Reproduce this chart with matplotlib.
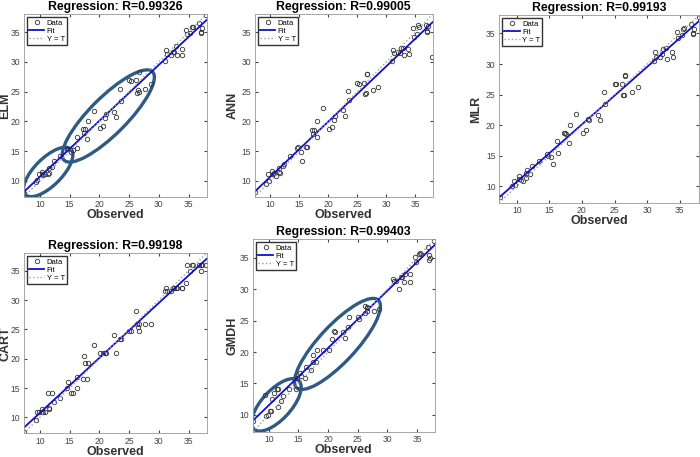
import matplotlib
matplotlib.use("Agg")
import matplotlib.pyplot as plt
import numpy as np
from matplotlib.patches import Ellipse

plt.rcParams['font.family'] = ['Liberation Sans', 'DejaVu Sans']

# observed (target) values shared by all models
observed = [7.4, 9.3, 9.6, 9.8, 10.3, 10.4, 10.6, 10.9, 11.4, 11.5, 11.6, 12.1, 12.4,
            13.4, 14.6, 14.8, 15.2, 15.5, 16.2, 16.3, 17.2, 17.4, 17.5, 18.0, 18.1,
            19.1, 20.1, 20.6, 21.0, 21.1, 22.5, 22.8, 23.4, 23.6, 25.0, 25.3, 26.2,
            26.3, 26.5, 26.6, 26.6, 27.7, 28.6, 31.0, 31.2, 31.4, 32.0, 32.3, 32.5,
            32.9, 33.0, 33.8, 33.9, 34.6, 34.8, 35.3, 35.5, 35.7, 36.8, 37.0, 37.1,
            37.2, 37.9]

elm = [8.0, 9.8, 10.2, 11.1, 11.2, 11.5, 11.0, 11.2, 11.2, 11.3, 12.1, 12.4, 13.3,
       14.2, 15.4, 15.3, 14.9, 15.2, 17.4, 15.5, 18.7, 18.0, 18.7, 17.1, 20.1,
       21.8, 18.8, 19.3, 20.5, 21.2, 21.5, 20.8, 25.4, 23.5, 26.9, 26.8, 26.9,
       24.7, 25.2, 24.9, 28.3, 25.5, 26.3, 30.1, 32.0, 31.3, 31.2, 31.6, 31.7,
       32.6, 31.1, 32.2, 31.2, 35.3, 34.7, 34.9, 35.8, 35.8, 36.6, 35.0, 34.8,
       35.7, 37.8]

ann = [8.2, 9.5, 11.2, 10.0, 11.6, 11.2, 11.3, 10.9, 11.5, 12.1, 11.4, 12.5, 12.8,
       14.2, 15.5, 15.7, 14.9, 13.3, 15.7, 15.7, 18.5, 17.9, 18.5, 17.4, 20.0,
       22.2, 18.7, 19.1, 20.2, 20.9, 21.9, 20.9, 25.1, 23.6, 26.4, 26.2, 26.4,
       24.6, 24.8, 28.0, 27.9, 25.3, 25.8, 30.1, 32.0, 31.4, 31.7, 31.4, 32.4,
       32.3, 31.1, 32.1, 31.3, 35.6, 34.1, 34.7, 36.1, 35.8, 36.1, 35.0, 35.2,
       36.0, 30.8]

mlr = [8.3, 10.0, 10.8, 10.2, 11.2, 11.7, 11.0, 10.9, 12.2, 11.3, 12.6, 12.1, 13.3,
       14.2, 15.3, 15.0, 14.8, 13.6, 17.4, 15.4, 18.7, 18.7, 18.6, 17.1, 20.1,
       21.9, 18.8, 19.2, 21.0, 20.9, 21.6, 20.9, 25.4, 23.5, 26.8, 26.7, 26.8,
       25.0, 24.9, 28.1, 28.2, 25.5, 26.2, 30.5, 31.9, 31.1, 31.1, 31.7, 32.5,
       32.6, 30.8, 32.0, 31.1, 35.3, 34.3, 34.7, 35.8, 35.9, 36.6, 35.0, 34.9,
       35.8, 37.7]

cart = [7.5, 9.6, 10.9, 10.9, 11.5, 10.9, 10.9, 11.0, 14.2, 11.6, 11.5, 14.2, 12.6,
        13.3, 15.0, 16.1, 14.2, 14.2, 16.9, 15.0, 16.6, 20.4, 19.2, 16.6, 19.2,
        22.3, 21.0, 21.0, 21.0, 21.0, 24.0, 21.0, 23.3, 23.3, 24.8, 24.8, 28.1,
        25.9, 25.4, 24.8, 26.0, 26.0, 26.0, 31.6, 32.0, 31.6, 31.6, 32.0, 32.0,
        32.0, 32.0, 32.0, 32.0, 33.0, 36.0, 35.0, 36.0, 36.0, 36.0, 36.0, 35.0,
        36.0, 36.0]

gmdh = [9.1, 13.2, 9.8, 10.0, 10.7, 10.6, 12.6, 13.5, 14.1, 11.3, 14.2, 12.2, 13.0,
        14.2, 14.2, 15.9, 16.6, 16.2, 15.9, 17.7, 17.2, 19.5, 18.5, 18.5, 20.3,
        20.3, 20.4, 22.1, 23.4, 23.2, 23.2, 22.3, 24.0, 25.6, 25.6, 25.3, 27.4,
        26.2, 27.0, 27.2, 26.6, 26.6, 26.9, 31.7, 31.3, 31.3, 30.1, 32.0, 31.9,
        31.1, 32.5, 32.5, 31.2, 35.1, 34.3, 35.6, 35.7, 35.6, 36.7, 34.7, 35.4,
        35.0, 37.7]

models = ['ELM', 'ANN', 'MLR', 'CART', 'GMDH']
r_values = ['0.99326', '0.99005', '0.99193', '0.99198', '0.99403']
predicted = [elm, ann, mlr, cart, gmdh]

# axes rectangles in figure fractions, and x position of the y label
boxes = [[0.034, 0.569, 0.261, 0.400],
         [0.364, 0.569, 0.254, 0.400],
         [0.713, 0.556, 0.286, 0.411],
         [0.034, 0.052, 0.261, 0.394],
         [0.361, 0.055, 0.260, 0.422]]
ylab_x = [-0.07, -0.09, -0.085, -0.07, -0.078]

# highlighted clusters (center, length, width) drawn on ELM and GMDH
ellipses = {'ELM': [((11.4, 11.5), 10.8, 4.6), ((21.5, 20.9), 21.0, 6.2)],
            'GMDH': [((11.3, 11.6), 10.8, 4.8), ((21.6, 21.3), 19.6, 6.0)]}

fig = plt.figure(figsize=(7, 4.57), dpi=100)
x = np.array(observed)
for name, r, pred, box, lx in zip(models, r_values, predicted, boxes, ylab_x):
    y = np.array(pred)
    ax = fig.add_axes(box)
    lo = min(x.min(), y.min()) - 0.1
    hi = max(x.max(), y.max()) + 0.1
    xx = np.array([lo, hi])
    slope, icpt = np.polyfit(x, y, 1)
    ax.plot(x, y, 'o', mfc='none', mec='#333333', ms=3.2, mew=0.6, label='Data')
    ax.plot(xx, slope * xx + icpt, color='#1010c8', lw=1.3, label='Fit')
    ax.plot(xx, xx, ':', color='#a0a0a0', lw=1.0, label='Y = T')
    for c, w, h in ellipses.get(name, []):
        ax.add_patch(Ellipse(c, w, h, angle=45, fill=False, ec='#2e5b84', lw=2.4))
    ax.set_xlim(lo, hi)
    ax.set_ylim(lo, hi)
    ax.set_xticks([10, 15, 20, 25, 30, 35])
    ax.set_yticks([10, 15, 20, 25, 30, 35])
    ax.tick_params(direction='in', length=2.5, labelsize=6.2, colors='#444444',
                   top=True, right=True, pad=2.5)
    for s in ax.spines.values():
        s.set_color('#999999')
        s.set_linewidth(0.6)
    ax.set_title('Regression: R=' + r, fontsize=8.8, fontweight='bold', pad=3)
    ax.set_xlabel('Observed', fontsize=9, fontweight='bold', color='#333333', labelpad=0)
    ax.set_ylabel(name, fontsize=9, fontweight='bold', color='#333333')
    ax.yaxis.set_label_coords(lx, 0.5)
    ax.legend(loc='upper left', fontsize=5.5, handlelength=2.0, handletextpad=0.3,
              borderpad=0.3, labelspacing=0.1, frameon=True, fancybox=False,
              edgecolor='#333333', framealpha=1, borderaxespad=0.4)

fig.savefig('out.png', dpi=100)
